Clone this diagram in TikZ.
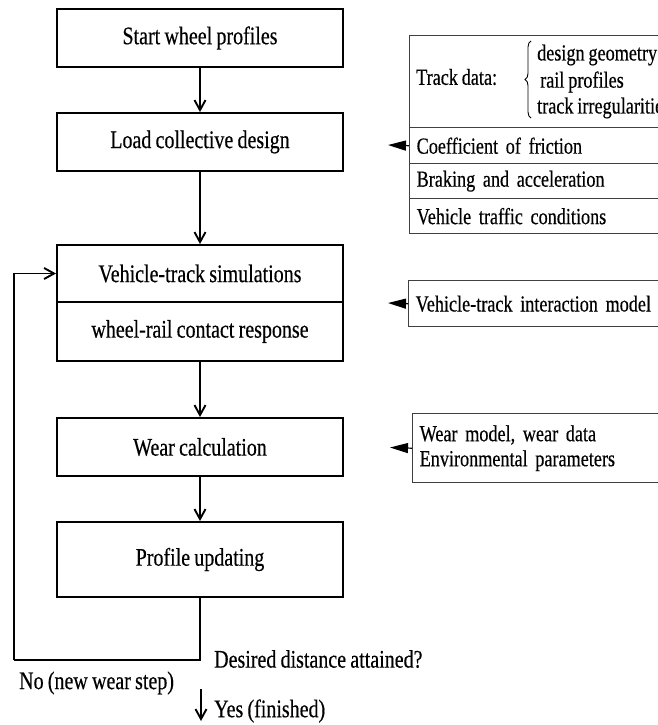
\documentclass[tikz,border=0pt]{standalone}
\usepackage{fontspec}
\setmainfont{Liberation Serif}[FakeStretch=0.79, WordSpace=0.85, FakeBold=0.4]
\usetikzlibrary{arrows.meta,decorations.pathreplacing}
\tikzset{
  lbox/.style={draw=black, line width=1.9pt, minimum width=286pt, inner sep=0pt,
    font=\fontsize{25.3}{28}\selectfont},
  rbox/.style={draw=black!75, line width=1.4pt, anchor=north west, align=left,
    text width=248pt, inner xsep=7pt, inner ysep=0pt,
    font=\fontsize{23}{25}\selectfont},
  rtext/.style={inner sep=0pt, font=\fontsize{23}{25}\selectfont},
  ltext/.style={inner sep=0pt, font=\fontsize{25.3}{28}\selectfont},
  flow/.style={line width=1.9pt, -{Straight Barb[length=10pt,width=11pt,line width=1.9pt]}},
  feed/.style={line width=1.9pt},
  inarr/.style={line width=1.2pt, -{Triangle[length=18pt,width=10pt]}}
}
\begin{document}
\begin{tikzpicture}[x=1pt,y=-1pt]
\clip (0,0) rectangle (658,725);
% left column
\node[lbox, minimum height=58pt] (start) at (200,38) {Start wheel profiles};
\node[lbox, minimum height=58pt] (load) at (200,142) {Load collective design};
\node[lbox, minimum height=57pt] (vts) at (200,273.5) {Vehicle-track simulations};
\node[lbox, minimum height=59pt] (wrc) at (200,331.5) {wheel-rail contact response};
\node[lbox, minimum height=58pt] (wear) at (200,447) {Wear calculation};
\node[lbox, minimum height=75pt] (prof) at (200,559.5) {Profile updating};
\draw[flow] (start) -- (load);
\draw[flow] (load) -- (vts);
\draw[flow] (wrc) -- (wear);
\draw[flow] (wear) -- (prof);
\coordinate (loopc) at (14,660);
\draw[feed] (prof.south) |- (loopc);
\draw[flow] (loopc) |- (vts.west);
\coordinate (yt) at (201,689);
\coordinate (yb) at (201,721);
\draw[flow] (yt) -- (yb);
\node[ltext, anchor=west] (dq) at (214,659) {Desired distance attained?};
\node[ltext, anchor=west] (no) at (19,683) {No (new wear step)};
\node[ltext, anchor=west] (yes) at (214,711) {Yes (finished)};
% right column
\node[rbox, minimum height=92pt] (td) at (409,35) {};
\node[rtext, anchor=west] (tdl) at (416,77) {Track data:};
\draw[line width=0.9pt, decorate, decoration={brace, amplitude=6pt}] (531,118) -- (531,41);
\node[rtext, anchor=west] (dg) at (537,55) {design geometry};
\node[rtext, anchor=west] (rp) at (540,82) {rail profiles};
\node[rtext, anchor=west] (ti) at (537,108) {track irregularities};
\node[rbox, minimum height=36pt] (cf) at (409,127) {Coefficient of friction};
\node[rbox, minimum height=35pt] (ba) at (409,163) {Braking and acceleration};
\node[rbox, minimum height=35pt] (vt) at (409,198) {Vehicle traffic conditions};
\coordinate (a1) at (388,145);
\draw[inarr] (cf.west) -- (a1);
\node[rbox, minimum height=46pt] (vim) at (408,280) {Vehicle-track interaction model};
\coordinate (a2) at (388,303);
\draw[inarr] (vim.west) -- (a2);
\node[rbox, minimum height=69pt] (wm) at (412,413) {Wear model, wear data\\Environmental parameters};
\coordinate (a3) at (390,447.5);
\draw[inarr] (wm.west) -- (a3);
\end{tikzpicture}
\end{document}
